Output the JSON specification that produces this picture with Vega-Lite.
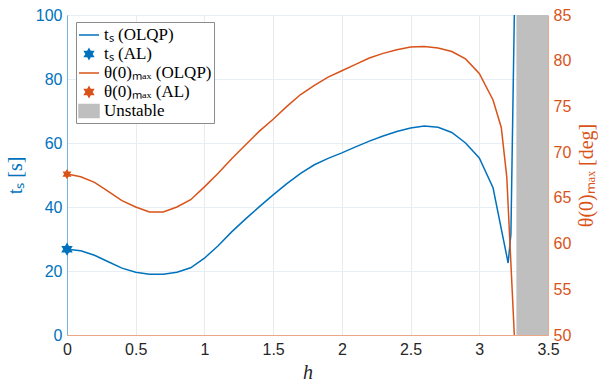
{
  "$schema": "https://vega.github.io/schema/vega-lite/v6.json",
  "width": 481,
  "height": 320,
  "autosize": {"type": "none"},
  "padding": {"left": 67, "top": 15, "right": 50, "bottom": 50},
  "background": "white",
  "config": {
    "view": {"stroke": "#a6a6a6", "strokeWidth": 1},
    "axis": {"labelFont": "Liberation Sans", "labelFontSize": 16, "titleFont": "Liberation Serif", "titleFontSize": 20, "titleFontWeight": "normal", "ticks": false, "labelFlush": false, "labelOverlap": false},
    "legend": {
      "orient": "none",
      "legendX": 9,
      "legendY": 7,
      "fillColor": "white",
      "strokeColor": "#8c8c8c",
      "padding": 2,
      "rowPadding": 0,
      "symbolSize": 400,
      "symbolStrokeWidth": 1.5,
      "labelFont": "Liberation Serif",
      "labelFontSize": 17,
      "labelColor": "black",
      "labelOffset": 4
    }
  },
  "datasets": {
    "ts": [
      {"h": 0.0, "v": 26.8}, {"h": 0.1, "v": 26.3}, {"h": 0.2, "v": 24.9}, {"h": 0.3, "v": 22.9},
      {"h": 0.4, "v": 20.9}, {"h": 0.5, "v": 19.6}, {"h": 0.6, "v": 19.0}, {"h": 0.7, "v": 19.0},
      {"h": 0.8, "v": 19.6}, {"h": 0.9, "v": 21.0}, {"h": 1.0, "v": 24.0}, {"h": 1.1, "v": 27.9},
      {"h": 1.2, "v": 32.3}, {"h": 1.3, "v": 36.3}, {"h": 1.4, "v": 40.1}, {"h": 1.5, "v": 43.8},
      {"h": 1.6, "v": 47.3}, {"h": 1.7, "v": 50.5}, {"h": 1.8, "v": 53.2}, {"h": 1.9, "v": 55.2},
      {"h": 2.0, "v": 56.9}, {"h": 2.1, "v": 58.8}, {"h": 2.2, "v": 60.6}, {"h": 2.3, "v": 62.2},
      {"h": 2.4, "v": 63.6}, {"h": 2.5, "v": 64.7}, {"h": 2.6, "v": 65.3}, {"h": 2.7, "v": 64.9},
      {"h": 2.8, "v": 63.3}, {"h": 2.9, "v": 60.0}, {"h": 3.0, "v": 55.3}, {"h": 3.1, "v": 46.0},
      {"h": 3.21, "v": 22.5}, {"h": 3.23, "v": 31.5}, {"h": 3.255, "v": 100}
    ],
    "th": [
      {"h": 0.0, "v": 67.6}, {"h": 0.1, "v": 67.3}, {"h": 0.2, "v": 66.7}, {"h": 0.3, "v": 65.7},
      {"h": 0.4, "v": 64.7}, {"h": 0.5, "v": 64.0}, {"h": 0.6, "v": 63.45}, {"h": 0.7, "v": 63.45},
      {"h": 0.8, "v": 64.0}, {"h": 0.9, "v": 64.8}, {"h": 1.0, "v": 66.2}, {"h": 1.1, "v": 67.7},
      {"h": 1.2, "v": 69.3}, {"h": 1.3, "v": 70.8}, {"h": 1.4, "v": 72.3}, {"h": 1.5, "v": 73.6},
      {"h": 1.6, "v": 75.0}, {"h": 1.7, "v": 76.3}, {"h": 1.8, "v": 77.3}, {"h": 1.9, "v": 78.2},
      {"h": 2.0, "v": 78.9}, {"h": 2.1, "v": 79.6}, {"h": 2.2, "v": 80.3}, {"h": 2.3, "v": 80.8},
      {"h": 2.4, "v": 81.2}, {"h": 2.5, "v": 81.5}, {"h": 2.6, "v": 81.55}, {"h": 2.7, "v": 81.4},
      {"h": 2.8, "v": 81.0}, {"h": 2.9, "v": 80.2}, {"h": 3.0, "v": 78.6}, {"h": 3.1, "v": 75.7},
      {"h": 3.16, "v": 72.7}, {"h": 3.2, "v": 67.3}, {"h": 3.255, "v": 50}
    ],
    "tsal": [{"h": 0, "v": 26.8, "series": "tₛ (AL)"}],
    "thal": [{"h": 0, "v": 67.6}],
    "unstable": [{"h": 3.27, "h2": 3.5, "lo": 0, "hi": 100}]
  },
  "layer": [
    {
      "layer": [
        {
          "data": {"name": "unstable"},
          "mark": {"type": "rect", "opacity": 1, "color": "#bfbfbf"},
          "encoding": {
            "x": {"field": "h", "type": "quantitative", "scale": {"domain": [0, 3.5], "nice": false}, "axis": {"values": [0, 0.5, 1, 1.5, 2, 2.5, 3, 3.5], "title": "h", "titleFontStyle": "italic", "titlePadding": 5, "labelColor": "#262626", "titleColor": "#262626", "domainColor": "#eba887", "gridColor": "#ebebeb", "labelPadding": 6, "labelExpr": "datum.value"}},
            "x2": {"field": "h2"},
            "y": {"field": "lo", "type": "quantitative", "scale": {"domain": [0, 100], "nice": false}, "axis": {"orient": "left", "values": [0, 20, 40, 60, 80, 100], "title": "tₛ  [s]", "titleColor": "#0072BD", "labelColor": "#0072BD", "domainColor": "#78b4e0", "gridColor": "#e6eff8", "labelPadding": 5, "titlePadding": 10}},
            "y2": {"field": "hi"}
          }
        },
        {
          "data": {"name": "ts"},
          "mark": {"type": "line", "strokeWidth": 1.5, "clip": true, "color": "#0072BD"},
          "encoding": {
            "x": {"field": "h", "type": "quantitative"},
            "y": {"field": "v", "type": "quantitative"}
          }
        },
        {
          "data": {"name": "tsal"},
          "mark": {"type": "point", "filled": true, "opacity": 1, "strokeWidth": 1.5, "size": 420},
          "encoding": {
            "x": {"field": "h", "type": "quantitative"},
            "y": {"field": "v", "type": "quantitative"},
            "color": {
              "field": "series", "type": "nominal", "legend": {"title": null},
              "scale": {"domain": ["tₛ (OLQP)", "tₛ (AL)", "θ(0)ₘₐₓ (OLQP)", "θ(0)ₘₐₓ (AL)", "Unstable"], "range": ["#0072BD", "#0072BD", "#D95319", "#D95319", "#bfbfbf"]}
            },
            "stroke": {
              "field": "series", "type": "nominal", "legend": {"title": null},
              "scale": {"domain": ["tₛ (OLQP)", "tₛ (AL)", "θ(0)ₘₐₓ (OLQP)", "θ(0)ₘₐₓ (AL)", "Unstable"], "range": ["#0072BD", "#0072BD", "#D95319", "#D95319", "#bfbfbf"]}
            },
            "shape": {
              "field": "series", "type": "nominal", "legend": {"title": null},
              "scale": {"domain": ["tₛ (OLQP)", "tₛ (AL)", "θ(0)ₘₐₓ (OLQP)", "θ(0)ₘₐₓ (AL)", "Unstable"], "range": ["stroke", "M0,-0.5L0.144,-0.25L0.433,-0.25L0.289,0L0.433,0.25L0.144,0.25L0,0.5L-0.144,0.25L-0.433,0.25L-0.289,0L-0.433,-0.25L-0.144,-0.25Z", "stroke", "M0,-0.5L0.144,-0.25L0.433,-0.25L0.289,0L0.433,0.25L0.144,0.25L0,0.5L-0.144,0.25L-0.433,0.25L-0.289,0L-0.433,-0.25L-0.144,-0.25Z", "M-1,-0.66L1,-0.66L1,0.66L-1,0.66Z"]}
            }
          }
        }
      ]
    },
    {
      "layer": [
        {
          "data": {"name": "th"},
          "mark": {"type": "line", "strokeWidth": 1.5, "clip": true, "color": "#D95319"},
          "encoding": {
            "x": {"field": "h", "type": "quantitative"},
            "y": {"field": "v", "type": "quantitative", "scale": {"domain": [50, 85], "nice": false}, "axis": {"orient": "right", "grid": false, "values": [50, 55, 60, 65, 70, 75, 80, 85], "title": "θ(0)ₘₐₓ [deg]", "titleColor": "#D95319", "labelColor": "#D95319", "domainColor": "#eba887", "labelPadding": 5, "titlePadding": 6, "titleAngle": -90, "titleBaseline": "top"}}
          }
        },
        {
          "data": {"name": "thal"},
          "mark": {"type": "point", "filled": true, "opacity": 1, "strokeWidth": 1.5, "size": 420, "color": "#D95319", "shape": "M0,-0.5L0.144,-0.25L0.433,-0.25L0.289,0L0.433,0.25L0.144,0.25L0,0.5L-0.144,0.25L-0.433,0.25L-0.289,0L-0.433,-0.25L-0.144,-0.25Z"},
          "encoding": {
            "x": {"field": "h", "type": "quantitative"},
            "y": {"field": "v", "type": "quantitative"}
          }
        }
      ]
    }
  ],
  "resolve": {"scale": {"y": "independent"}}
}
